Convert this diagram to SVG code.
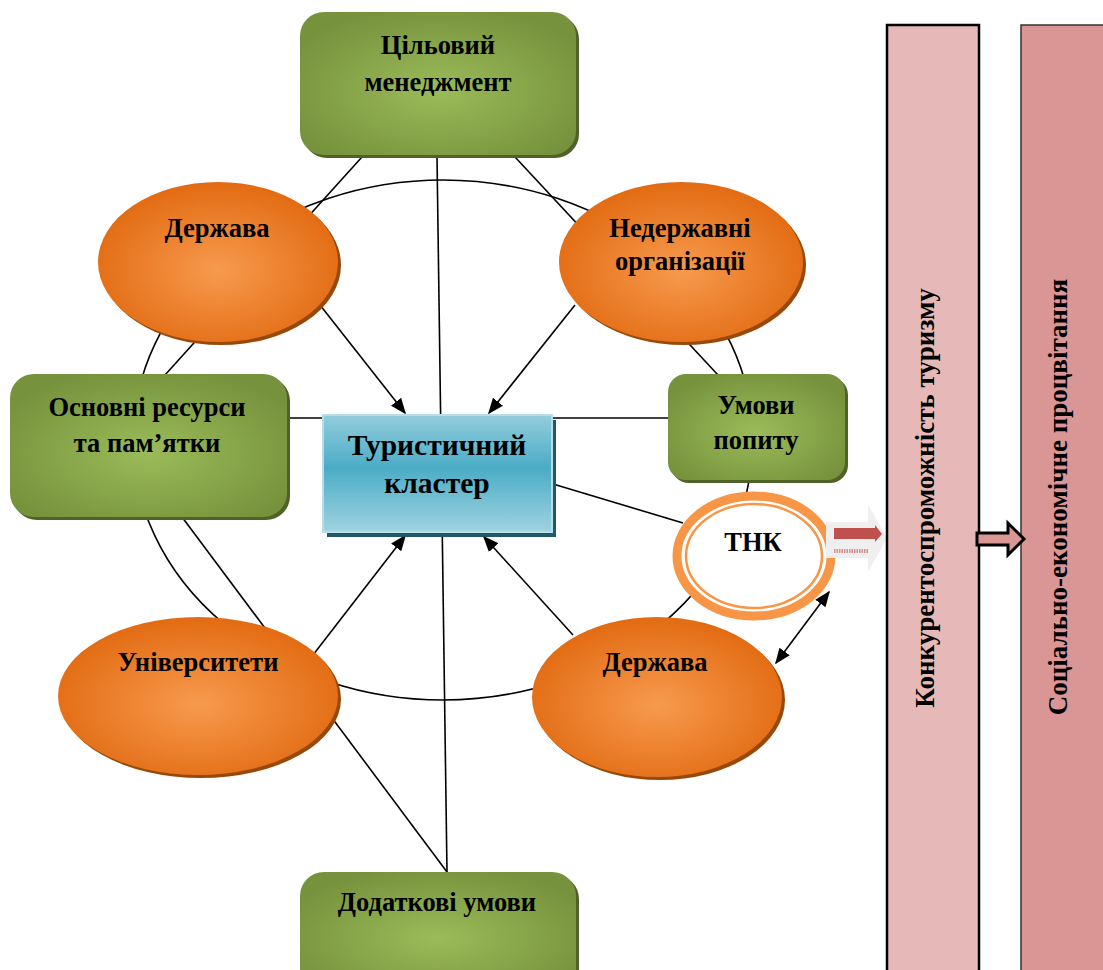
<svg xmlns="http://www.w3.org/2000/svg" width="1103" height="970" viewBox="0 0 1103 970">
<style>
text{font-family:"Liberation Serif","Times New Roman",serif;font-weight:bold;fill:#000;text-anchor:middle}
.t{font-size:26.5px}
.v{font-size:27px}
.big{font-size:29.5px}
.ln{fill:none;stroke:#000;stroke-width:1.6}
.gbox{fill:url(#gG)}
.gsh{fill:#4f6228}
.oel{fill:url(#oG)}
.osh{fill:#984807}
</style>
<defs>
<radialGradient id="gG" cx="50%" cy="55%" r="60%">
<stop offset="0" stop-color="#9bbb59"/>
<stop offset="1" stop-color="#76923c"/>
</radialGradient>
<radialGradient id="oG" cx="50%" cy="55%" r="55%">
<stop offset="0" stop-color="#f79a4e"/>
<stop offset="1" stop-color="#e26b12"/>
</radialGradient>
<linearGradient id="cG" x1="0" y1="0" x2="0" y2="1">
<stop offset="0" stop-color="#93cddd"/>
<stop offset="0.45" stop-color="#4bacc6"/>
<stop offset="1" stop-color="#9fd3e0"/>
</linearGradient>
<marker id="ah2" viewBox="0 0 10 10" refX="9" refY="5" markerWidth="16" markerHeight="16" markerUnits="userSpaceOnUse" orient="auto-start-reverse">
<path d="M0,1 L10,5 L0,9 z" fill="#000"/>
</marker>
</defs>

<g id="connectors">
<ellipse cx="443" cy="440" rx="310" ry="260" class="ln" stroke-width="1.4"/>
<line x1="362" y1="157" x2="165" y2="375" class="ln"/>
<line x1="515" y1="157" x2="718" y2="375" class="ln"/>
<line x1="437" y1="157" x2="447" y2="872" class="ln"/>
<line x1="287" y1="418" x2="668" y2="418" class="ln"/>
<line x1="182" y1="517" x2="447" y2="872" class="ln"/>
<line x1="553" y1="484" x2="683" y2="523" class="ln"/>
<line x1="320" y1="305" x2="405" y2="413" class="ln" marker-end="url(#ah2)"/>
<line x1="575" y1="305" x2="489" y2="413" class="ln" marker-end="url(#ah2)"/>
<line x1="313" y1="655" x2="405" y2="536" class="ln" marker-end="url(#ah2)"/>
<line x1="573" y1="635" x2="484" y2="537" class="ln" marker-end="url(#ah2)"/>
<line x1="776" y1="663" x2="829" y2="592" class="ln" marker-start="url(#ah2)" marker-end="url(#ah2)"/>
</g>

<g id="n-top">
<rect x="303" y="15" width="276" height="143" rx="24" class="gsh"/>
<rect x="300" y="12" width="276" height="143" rx="24" class="gbox"/>
<text x="438" y="54" class="t">Цільовий</text>
<text x="438" y="91" class="t">менеджмент</text>
</g>

<g id="n-resources">
<rect x="13" y="377" width="277" height="143" rx="24" class="gsh"/>
<rect x="10" y="374" width="277" height="143" rx="24" class="gbox"/>
<text x="147" y="416" class="t">Основні ресурси</text>
<text x="147" y="452" class="t">та пам’ятки</text>
</g>

<g id="n-demand">
<rect x="671" y="377" width="177" height="106" rx="18" class="gsh"/>
<rect x="668" y="374" width="177" height="106" rx="18" class="gbox"/>
<text x="756" y="414" class="t">Умови</text>
<text x="756" y="449" class="t">попиту</text>
</g>

<g id="n-extra">
<rect x="303" y="875" width="276" height="120" rx="24" class="gsh"/>
<rect x="300" y="872" width="276" height="120" rx="24" class="gbox"/>
<text x="437" y="911" class="t">Додаткові умови</text>
</g>

<g id="n-state1">
<ellipse cx="221" cy="265" rx="120" ry="80" class="osh"/>
<ellipse cx="218" cy="262" rx="120" ry="80" class="oel"/>
<text x="217" y="237" class="t">Держава</text>
</g>

<g id="n-ngo">
<ellipse cx="684" cy="265" rx="122" ry="80" class="osh"/>
<ellipse cx="681" cy="262" rx="122" ry="80" class="oel"/>
<text x="680" y="237" class="t">Недержавні</text>
<text x="680" y="270" class="t">організації</text>
</g>

<g id="n-univ">
<ellipse cx="201" cy="699" rx="140" ry="79" class="osh"/>
<ellipse cx="198" cy="696" rx="140" ry="79" class="oel"/>
<text x="198" y="671" class="t">Університети</text>
</g>

<g id="n-state2">
<ellipse cx="660" cy="700" rx="125" ry="80" class="osh"/>
<ellipse cx="657" cy="697" rx="125" ry="80" class="oel"/>
<text x="655" y="671" class="t">Держава</text>
</g>

<g id="n-cluster">
<rect x="327" y="420" width="229" height="117" fill="#215968"/>
<rect x="323" y="415" width="229" height="117" fill="url(#cG)" stroke="#b7dee8" stroke-width="2"/>
<text x="437" y="455" class="big">Туристичний</text>
<text x="437" y="493" class="big">кластер</text>
</g>

<g id="n-tnk">
<ellipse cx="754" cy="556" rx="77" ry="60" fill="#fff" stroke="#f79646" stroke-width="9"/>
<ellipse cx="754" cy="556" rx="68" ry="52" fill="none" stroke="#f79646" stroke-width="2.5"/>
<text x="753" y="551" class="t">ТНК</text>
</g>

<g id="tnk-arrow">
<path d="M826,522 L868,522 L868,505 L887,538 L868,572 L868,558 L826,558 z" fill="#efefef"/>
<path d="M834,528 L875,528 L875,525 L882,534 L875,542 L875,539 L834,539 z" fill="#c0504d"/>
<line x1="834" y1="551" x2="868" y2="551" stroke="#c0504d" stroke-width="4" stroke-dasharray="1.5 1" opacity="0.6"/>
</g>

<g id="n-competitiveness">
<rect x="887" y="25" width="92" height="960" fill="#e6b9b8" stroke="#000" stroke-width="2.5"/>
<text transform="translate(934,498) rotate(-90)" class="v">Конкурентоспроможність туризму</text>
</g>

<g id="n-prosperity">
<rect x="1021" y="25" width="100" height="960" fill="#d99694" stroke="#333" stroke-width="1.5"/>
<text transform="translate(1067,497) rotate(-90)" class="v">Соціально-економічне процвітання</text>
</g>

<g id="col-arrow">
<path d="M977,533 L1008,533 L1008,523 L1024,539 L1008,555 L1008,545 L977,545 z" fill="#d99694" stroke="#000" stroke-width="3"/>
</g>
</svg>
